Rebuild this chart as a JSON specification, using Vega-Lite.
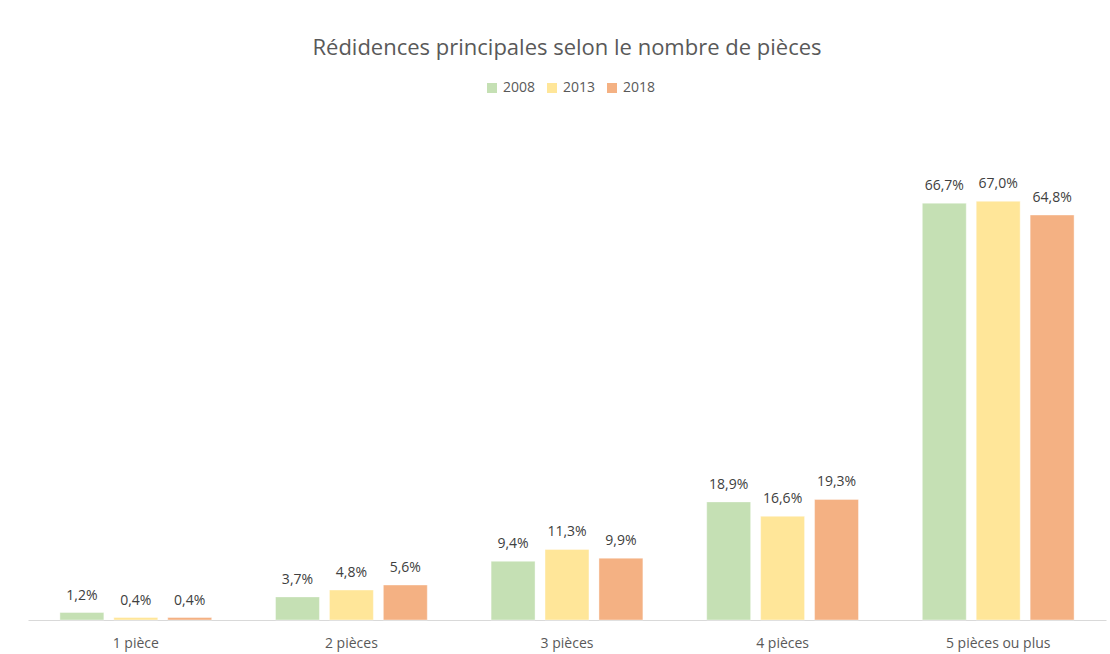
{
  "$schema": "https://vega.github.io/schema/vega-lite/v6.json",
  "autosize": {"type": "none"},
  "width": 1078,
  "height": 500,
  "padding": {"left": 28, "top": 120, "right": 4, "bottom": 34},
  "background": "white",
  "config": {
    "locale": {"number": {"decimal": ",", "thousands": " ", "grouping": [3], "currency": ["", " €"]}},
    "view": {"stroke": null},
    "font": "Open Sans"
  },
  "title": {
    "text": "Rédidences principales selon le nombre de pièces",
    "fontSize": 22,
    "fontWeight": "normal",
    "color": "#595959",
    "offset": 21,
    "anchor": "middle"
  },
  "data": {
    "values": [
      {"cat": "1 pièce", "year": "2008", "v": 0.012},
      {"cat": "1 pièce", "year": "2013", "v": 0.004},
      {"cat": "1 pièce", "year": "2018", "v": 0.004},
      {"cat": "2 pièces", "year": "2008", "v": 0.037},
      {"cat": "2 pièces", "year": "2013", "v": 0.048},
      {"cat": "2 pièces", "year": "2018", "v": 0.056},
      {"cat": "3 pièces", "year": "2008", "v": 0.094},
      {"cat": "3 pièces", "year": "2013", "v": 0.113},
      {"cat": "3 pièces", "year": "2018", "v": 0.099},
      {"cat": "4 pièces", "year": "2008", "v": 0.189},
      {"cat": "4 pièces", "year": "2013", "v": 0.166},
      {"cat": "4 pièces", "year": "2018", "v": 0.193},
      {"cat": "5 pièces ou plus", "year": "2008", "v": 0.667},
      {"cat": "5 pièces ou plus", "year": "2013", "v": 0.670},
      {"cat": "5 pièces ou plus", "year": "2018", "v": 0.648}
    ]
  },
  "encoding": {
    "x": {
      "field": "cat", "type": "nominal", "sort": null,
      "scale": {"paddingInner": 0.296, "paddingOuter": 0.148},
      "axis": {
        "title": null, "labelAngle": 0, "ticks": false,
        "domainColor": "#d9d9d9", "labelColor": "#595959",
        "labelFontSize": 14, "labelPadding": 16, "labelFont": "Open Sans"
      }
    },
    "xOffset": {"field": "year", "type": "nominal", "scale": {"paddingInner": 0.185, "paddingOuter": 0}},
    "y": {
      "field": "v", "type": "quantitative",
      "scale": {"domain": [0, 0.8]},
      "axis": null
    }
  },
  "layer": [
    {
      "mark": {"type": "bar", "stroke": "white", "strokeOpacity": 0.4, "strokeWidth": 1},
      "encoding": {
        "color": {
          "field": "year", "type": "nominal",
          "scale": {"domain": ["2008", "2013", "2018"], "range": ["#C5E0B4", "#FFE699", "#F4B183"]},
          "legend": {
            "title": null, "orient": "none", "direction": "horizontal",
            "legendX": 457, "legendY": -39,
            "symbolType": "square", "symbolSize": 100, "symbolStrokeWidth": 0,
            "labelFontSize": 14, "labelColor": "#595959", "columnPadding": 9,
            "labelFont": "Open Sans", "symbolOffset": 0
          }
        }
      }
    },
    {
      "mark": {"type": "text", "dy": -17, "fontSize": 14, "color": "#404040", "font": "Open Sans"},
      "encoding": {
        "text": {"field": "v", "type": "quantitative", "format": ".1%"}
      }
    }
  ]
}
